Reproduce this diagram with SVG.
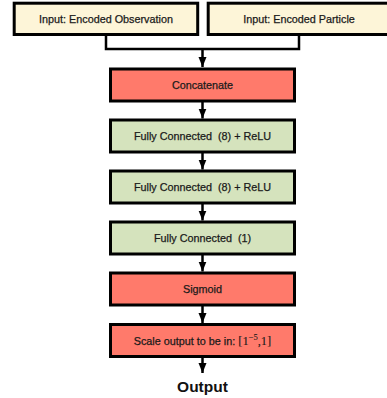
<svg xmlns="http://www.w3.org/2000/svg" width="387" height="398" viewBox="0 0 387 398">
<style>
.box{stroke:#000;stroke-width:3}
.in{fill:#fdf5d8}
.red{fill:#ff7a6b}
.grn{fill:#d5e3bd}
.lbl{font-family:"Liberation Sans",Arial,sans-serif;font-size:10.8px;fill:#1a1a1a;stroke:#1a1a1a;stroke-width:0.25;text-anchor:middle}
.conn{fill:none;stroke:#000;stroke-width:2.5}
</style>
<defs>
<marker id="ah" markerUnits="userSpaceOnUse" viewBox="0 0 10 8" refX="10" refY="4" markerWidth="10" markerHeight="9" orient="auto">
<path d="M0,0 L10,4 L0,8 z" fill="#000"/>
</marker>
</defs>
<rect width="387" height="398" fill="#fff"/>
<g id="connectors">
<path class="conn" d="M106,35 V49 H299 V35"/>
<path class="conn" d="M202.5,49 V67" marker-end="url(#ah)"/>
<path class="conn" d="M202.5,102 V118.5" marker-end="url(#ah)"/>
<path class="conn" d="M202.5,153 V169.5" marker-end="url(#ah)"/>
<path class="conn" d="M202.5,204 V220.5" marker-end="url(#ah)"/>
<path class="conn" d="M202.5,255 V271.5" marker-end="url(#ah)"/>
<path class="conn" d="M202.5,306 V323" marker-end="url(#ah)"/>
<path class="conn" d="M202.5,357.5 V373" marker-end="url(#ah)"/>
</g>
<g id="input-observation">
<rect class="box in" x="14.2" y="3.2" width="183.5" height="31.3"/>
<text class="lbl" x="106" y="23">Input: Encoded Observation</text>
</g>
<g id="input-particle">
<rect class="box in" x="208.2" y="3.2" width="183" height="31.3"/>
<text class="lbl" x="299" y="23">Input: Encoded Particle</text>
</g>
<g id="concatenate">
<rect class="box red" x="110.5" y="69" width="184" height="32"/>
<text class="lbl" x="202.5" y="89">Concatenate</text>
</g>
<g id="fc1">
<rect class="box grn" x="110.5" y="120" width="184" height="32"/>
<text class="lbl" x="202.5" y="140" xml:space="preserve">Fully Connected  (8) + ReLU</text>
</g>
<g id="fc2">
<rect class="box grn" x="110.5" y="171" width="184" height="32"/>
<text class="lbl" x="202.5" y="191" xml:space="preserve">Fully Connected  (8) + ReLU</text>
</g>
<g id="fc3">
<rect class="box grn" x="110.5" y="222" width="184" height="32"/>
<text class="lbl" x="202.5" y="242" xml:space="preserve">Fully Connected  (1)</text>
</g>
<g id="sigmoid">
<rect class="box red" x="110.5" y="273" width="184" height="32"/>
<text class="lbl" x="202.5" y="293">Sigmoid</text>
</g>
<g id="scale">
<rect class="box red" x="110.5" y="324.5" width="184" height="32"/>
<text class="lbl" x="202.5" y="344.5" xml:space="preserve">Scale output to be in: <tspan font-family="'Liberation Serif','Times New Roman',serif" font-size="12.5" stroke-width="0.1">[1</tspan><tspan font-family="'Liberation Serif','Times New Roman',serif" font-size="8.5" stroke-width="0.1" dy="-5">−5</tspan><tspan font-family="'Liberation Serif','Times New Roman',serif" font-size="12.5" stroke-width="0.1" dy="5">,1]</tspan></text>
</g>
<g id="output">
<text x="202.5" y="391.5" font-family="'Liberation Sans',Arial,sans-serif" font-size="15.5" font-weight="bold" text-anchor="middle" fill="#111">Output</text>
</g>
</svg>
